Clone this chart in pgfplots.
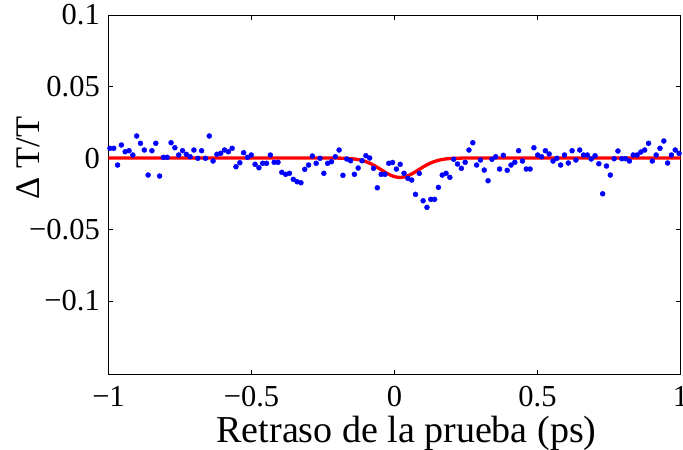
\documentclass[border=0pt]{standalone}
\usepackage{fontspec}
\setmainfont{Liberation Serif}
\usepackage{pgfplots}
\pgfplotsset{compat=1.18}
\usepackage{pgfplotstable}

% Measured transmission change versus probe delay
\pgfplotstableread{
x y
-0.9950 0.0068
-0.9816 0.0068
-0.9683 -0.0049
-0.9549 0.0091
-0.9416 0.0044
-0.9282 0.0051
-0.9149 0.0021
-0.9015 0.0154
-0.8882 0.0103
-0.8748 0.0056
-0.8614 -0.0119
-0.8481 0.0051
-0.8347 0.0103
-0.8214 -0.0126
-0.8080 0.0005
-0.7947 0.0005
-0.7813 0.0107
-0.7680 0.0072
-0.7546 0.0021
-0.7412 0.0051
-0.7279 0.0026
-0.7145 0.0009
-0.7012 0.0056
-0.6878 -0.0002
-0.6745 0.0051
-0.6611 -0.0002
-0.6477 0.0154
-0.6344 -0.0021
-0.6210 0.0026
-0.6077 0.0033
-0.5943 0.0056
-0.5810 0.0044
-0.5676 0.0068
-0.5543 -0.0061
-0.5409 -0.0033
-0.5275 0.0037
-0.5142 0.0005
-0.5008 0.0021
-0.4875 -0.0044
-0.4741 -0.0068
-0.4608 -0.0037
-0.4474 -0.0037
-0.4340 0.0021
-0.4207 -0.0030
-0.4073 -0.0030
-0.3940 -0.0100
-0.3806 -0.0114
-0.3673 -0.0107
-0.3539 -0.0149
-0.3406 -0.0166
-0.3272 -0.0173
-0.3138 -0.0079
-0.3005 -0.0049
-0.2871 0.0014
-0.2738 -0.0037
-0.2604 -0.0002
-0.2471 -0.0107
-0.2337 -0.0037
-0.2203 -0.0026
-0.2070 0.0009
-0.1936 0.0056
-0.1803 -0.0121
-0.1669 -0.0007
-0.1536 -0.0019
-0.1402 -0.0114
-0.1269 -0.0070
-0.1135 -0.0019
-0.1001 0.0016
-0.0868 0.0000
-0.0734 -0.0072
-0.0601 -0.0208
-0.0467 -0.0114
-0.0334 -0.0114
-0.0200 -0.0037
-0.0067 -0.0031
0.0067 -0.0077
0.0200 -0.0044
0.0334 -0.0107
0.0467 -0.0142
0.0601 -0.0154
0.0734 -0.0254
0.0868 -0.0107
0.1001 -0.0299
0.1135 -0.0345
0.1269 -0.0289
0.1402 -0.0289
0.1536 -0.0205
0.1669 -0.0119
0.1803 -0.0107
0.1936 -0.0135
0.2070 -0.0009
0.2203 -0.0042
0.2337 -0.0072
0.2471 -0.0030
0.2604 0.0056
0.2738 0.0107
0.2871 -0.0049
0.3005 -0.0014
0.3138 -0.0084
0.3272 -0.0159
0.3406 -0.0009
0.3539 0.0009
0.3673 -0.0077
0.3806 0.0019
0.3940 -0.0086
0.4073 -0.0049
0.4207 -0.0030
0.4340 0.0051
0.4474 -0.0021
0.4608 -0.0077
0.4741 -0.0077
0.4875 0.0072
0.5008 0.0021
0.5142 0.0009
0.5275 0.0051
0.5409 0.0028
0.5543 -0.0021
0.5676 -0.0002
0.5810 -0.0049
0.5943 0.0021
0.6077 -0.0035
0.6210 0.0051
0.6344 -0.0014
0.6477 0.0056
0.6611 0.0021
0.6745 0.0021
0.6878 -0.0007
0.7012 0.0016
0.7145 -0.0040
0.7279 -0.0250
0.7412 -0.0056
0.7546 -0.0119
0.7680 -0.0005
0.7813 0.0049
0.7947 -0.0005
0.8080 -0.0005
0.8214 -0.0021
0.8347 0.0021
0.8481 0.0021
0.8614 0.0042
0.8748 0.0056
0.8882 0.0103
0.9015 -0.0021
0.9149 0.0021
0.9282 0.0068
0.9416 0.0119
0.9549 -0.0035
0.9683 0.0021
0.9816 0.0056
0.9950 0.0033
}\measured

% Fitted response (Gaussian dip near zero delay)
\pgfplotstableread{
x y
-1.00 0.00000
-0.30 0.00000
-0.24 -0.00001
-0.20 -0.00005
-0.18 -0.00013
-0.16 -0.00031
-0.14 -0.00069
-0.12 -0.00139
-0.10 -0.00255
-0.08 -0.00427
-0.06 -0.00651
-0.04 -0.00902
-0.02 -0.01136
0.00 -0.01303
0.02 -0.01360
0.04 -0.01291
0.06 -0.01115
0.08 -0.00876
0.10 -0.00627
0.12 -0.00408
0.14 -0.00241
0.16 -0.00130
0.18 -0.00064
0.20 -0.00028
0.24 -0.00004
0.30 0.00000
1.00 0.00000
}\fitcurve

\begin{document}
\begin{tikzpicture}[font=\fontsize{30.5bp}{36bp}\selectfont]
\useasboundingbox (-108.5bp,-75.3bp) rectangle (574.5bp,374.7bp);
\begin{axis}[
  at={(0,0)}, anchor=south west,
  scale only axis,
  width=572bp, height=359.7bp,
  xmin=-1, xmax=1,
  ymin=-0.1515, ymax=0.1,
  xtick={-1,-0.5,0,0.5,1},
  xticklabels={−1,−0.5,0,0.5,1},
  ytick={-0.1,-0.05,0,0.05,0.1},
  yticklabels={−0.1,−0.05,0,0.05,0.1},
  tick align=inside,
  major tick length=5bp,
  axis line style={line width=0.8bp},
  tick style={line width=0.6bp, black},
  every tick label/.append style={font=\fontsize{30.5bp}{36bp}\selectfont, inner sep=0pt},
  yticklabel style={xshift=-8.5bp},
  xticklabel style={yshift=-11.5bp},
  xlabel={Retraso de la prueba (ps)},
  ylabel={Δ T/T},
  xlabel style={at={(axis description cs:0.5,0)}, anchor=base, inner sep=0pt,
                yshift=-68bp, xshift=12bp,
                font=\fontsize{38bp}{44bp}\selectfont},
  ylabel style={at={(axis description cs:-0.1407,0.6024)}, anchor=center, inner sep=0pt,
                font=\fontsize{34.5bp}{40bp}\selectfont},
  clip=true,
]
\addplot[only marks, mark=*, mark size=2.5bp, blue, mark options={draw=blue, fill=blue}]
  table[x=x, y=y] {\measured};
\addplot[red, line width=3.3bp, smooth] table[x=x, y=y] {\fitcurve};
\end{axis}
\end{tikzpicture}
\end{document}
